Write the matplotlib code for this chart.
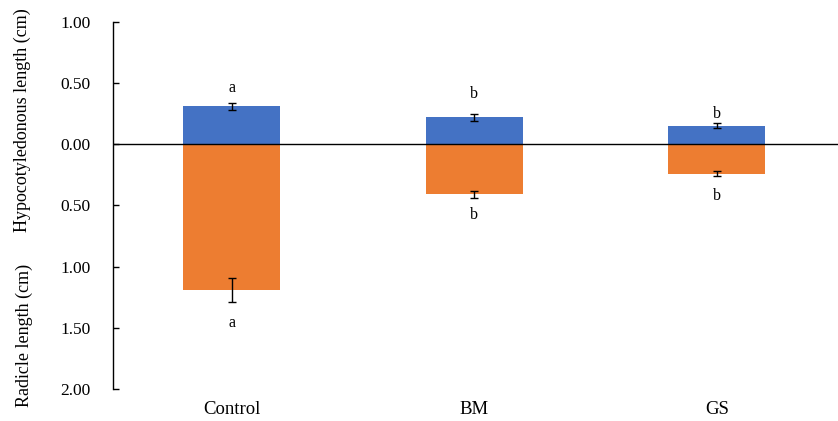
import matplotlib
matplotlib.use("Agg")
import matplotlib.pyplot as plt
import numpy as np

# Treatments and measured lengths (cm)
categories = ["Control", "BM", "GS"]
hypocotyl = [0.31, 0.22, 0.15]
hypocotyl_err = [0.03, 0.03, 0.02]
radicle = [1.19, 0.41, 0.24]
radicle_err = [0.10, 0.03, 0.02]
hypocotyl_letters = ["a", "b", "b"]
radicle_letters = ["a", "b", "b"]
ytick_values = [1.0, 0.5, 0.0, -0.5, -1.0, -1.5, -2.0]
ytick_labels = ["1.00", "0.50", "0.00", "0.50", "1.00", "1.50", "2.00"]

# Heights (data units) at which the significance letters sit
hyp_letter_y = [0.46, 0.41, 0.25]
rad_letter_y = [-1.46, -0.58, -0.425]

plt.rcParams["font.family"] = ["Liberation Serif", "DejaVu Serif"]

fig = plt.figure(figsize=(8.38, 4.21), dpi=100)
ax = fig.add_axes([0.135, 0.076, 0.865, 0.872])

x = np.arange(len(categories))
w = 0.4
blue = "#4472C4"
orange = "#ED7D31"

ax.bar(x, hypocotyl, width=w, color=blue, zorder=2)
ax.bar(x, -np.array(radicle), width=w, color=orange, zorder=2)

ax.errorbar(x, hypocotyl, yerr=hypocotyl_err, fmt="none", ecolor="black",
            elinewidth=1, capsize=3, capthick=1, zorder=3)
ax.errorbar(x, -np.array(radicle), yerr=radicle_err, fmt="none", ecolor="black",
            elinewidth=1, capsize=3, capthick=1, zorder=3)

ax.axhline(0, color="black", lw=1, zorder=4)

# Significance letters
for xi, yi, lt in zip(x, hyp_letter_y, hypocotyl_letters):
    ax.text(xi, yi, lt, ha="center", va="center", fontsize=11.5)
for xi, yi, lt in zip(x, rad_letter_y, radicle_letters):
    ax.text(xi, yi, lt, ha="center", va="center", fontsize=11.5)

ax.set_xlim(-0.49, 2.5)
ax.set_ylim(-2.0, 1.0)
ax.set_yticks(ytick_values)
ax.set_yticklabels(ytick_labels, fontsize=12.5)
ax.set_xticks(x)
ax.set_xticklabels(categories, fontsize=13.5)
ax.tick_params(axis="y", direction="in", length=4, width=1, pad=16)
ax.tick_params(axis="x", length=0, pad=8.5)

for s in ["top", "right", "bottom"]:
    ax.spines[s].set_visible(False)
ax.spines["left"].set_linewidth(1)

fig.text(0.027, 0.715, "Hypocotyledonous length (cm)", rotation=90,
         ha="center", va="center", fontsize=13)
fig.text(0.029, 0.204, "Radicle length (cm)", rotation=90,
         ha="center", va="center", fontsize=13)

fig.savefig("out.png", dpi=100)
